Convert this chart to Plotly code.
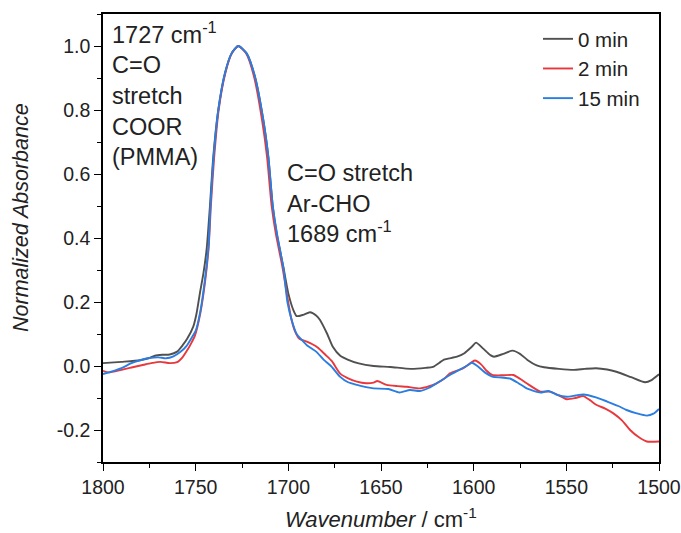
import plotly.graph_objects as go

# ---- data ----
wn_0 = [1800, 1790, 1780, 1775, 1772, 1768, 1764, 1760, 1757, 1754.6, 1751.3, 1749.5, 1747.7, 1745.8, 1744, 1742.3, 1740.5,
        1737.8, 1734.2, 1730.6, 1727, 1722.5, 1718, 1713.5, 1710.8, 1708.4, 1706.3, 1702.7, 1700, 1697.3,
        1695.5, 1692, 1688.3, 1685, 1682.9, 1679, 1676, 1672, 1668, 1662, 1654, 1645, 1634, 1626, 1622,
        1618, 1616, 1609, 1605, 1601, 1598.7, 1595, 1591, 1589, 1584, 1579, 1575, 1571, 1566, 1562, 1554,
        1546, 1540, 1534, 1528, 1523, 1515, 1507.5, 1504, 1500]
abs_0 = [0.009, 0.013, 0.018, 0.025, 0.032, 0.035, 0.036, 0.045, 0.065, 0.085, 0.123, 0.165, 0.228, 0.29, 0.37, 0.5, 0.654,
         0.8, 0.915, 0.977, 1.0, 0.977, 0.904, 0.769, 0.654, 0.5, 0.415, 0.31, 0.227, 0.175,
         0.156, 0.16, 0.168, 0.158, 0.144, 0.1, 0.06, 0.032, 0.02, 0.008, 0.0, -0.003, -0.009, -0.006, -0.003,
         0.012, 0.02, 0.029, 0.04, 0.06, 0.073, 0.055, 0.034, 0.029, 0.038, 0.048, 0.038, 0.019, 0.002, -0.004, -0.009,
         -0.012, -0.009, -0.007, -0.011, -0.018, -0.035, -0.051, -0.044, -0.026]

wn_2 = [1800, 1797, 1790, 1784, 1778, 1774, 1769, 1764, 1760, 1757, 1755, 1752.5, 1750.4, 1747.5, 1745, 1743,
        1741.8, 1740, 1737.6, 1734, 1730.5, 1727, 1722.8, 1718.5, 1714.2, 1711.5, 1709, 1706.8, 1703.2,
        1700.5, 1698.5, 1696.5, 1694, 1690, 1687, 1684, 1680, 1676.5, 1672, 1668, 1663, 1658, 1654, 1652,
        1647, 1641, 1636, 1629, 1624, 1620, 1616, 1612.8, 1605.6, 1601, 1599.3, 1596, 1593, 1590, 1584,
        1578.6, 1575, 1571.4, 1564, 1558.8, 1554, 1549.8, 1545, 1540.8, 1537, 1533.6, 1529, 1524.6, 1520,
        1515.6, 1511, 1506.6, 1500]
abs_2 = [-0.015, -0.02, -0.012, -0.004, 0.004, 0.009, 0.013, 0.009, 0.012, 0.028, 0.045, 0.07, 0.095, 0.165, 0.26, 0.37,
         0.5, 0.654, 0.8, 0.915, 0.977, 1.0, 0.977, 0.904, 0.769, 0.654, 0.5, 0.415, 0.31,
         0.215, 0.15, 0.11, 0.085, 0.076, 0.068, 0.057, 0.035, 0.015, -0.024, -0.038, -0.049, -0.054, -0.052, -0.047,
         -0.059, -0.063, -0.065, -0.07, -0.063, -0.054, -0.04, -0.023, -0.007, 0.012, 0.017, 0.005, -0.015, -0.028, -0.029,
         -0.028, -0.04, -0.054, -0.08, -0.08, -0.092, -0.104, -0.1, -0.094, -0.108, -0.122, -0.133, -0.148, -0.17,
         -0.2, -0.222, -0.236, -0.236]

wn_15 = [1800, 1795, 1790, 1785, 1780, 1775, 1770, 1766, 1762, 1758, 1755, 1752, 1750, 1747.5, 1745, 1743,
         1742, 1740.3, 1737.8, 1734.2, 1730.6, 1727, 1722.5, 1718, 1713.5, 1710.8, 1708.4, 1706, 1702.5,
         1700.5, 1698, 1695.5, 1693, 1690, 1685, 1681, 1677, 1672, 1668, 1663, 1658, 1654, 1646, 1640,
         1634.4, 1629, 1624, 1620, 1616, 1612.8, 1607, 1603, 1601, 1598, 1594, 1590, 1585, 1580.4, 1576,
         1571.4, 1564, 1559.7, 1555, 1549.8, 1545, 1540.8, 1534, 1528, 1522, 1517.5, 1512, 1506.6, 1503, 1500]
abs_15 = [-0.025, -0.017, -0.007, 0.008, 0.018, 0.025, 0.027, 0.024, 0.03, 0.045, 0.062, 0.09, 0.11, 0.17, 0.27, 0.38,
          0.5, 0.654, 0.8, 0.915, 0.977, 1.0, 0.977, 0.904, 0.769, 0.654, 0.5, 0.41, 0.3,
          0.2, 0.14, 0.1, 0.083, 0.065, 0.045, 0.02, 0.0, -0.034, -0.05, -0.059, -0.066, -0.07, -0.072, -0.083,
          -0.075, -0.078, -0.068, -0.054, -0.04, -0.028, -0.01, 0.003, 0.01, 0.0, -0.02, -0.033, -0.036, -0.039, -0.053,
          -0.07, -0.083, -0.078, -0.09, -0.096, -0.092, -0.089, -0.098, -0.111, -0.125, -0.1375, -0.148, -0.155, -0.149, -0.134]

series_names = ["0 min", "2 min", "15 min"]
series_colors = ["#505050", "#e8383d", "#2b7de0"]

x_ticks = [1800, 1750, 1700, 1650, 1600, 1550, 1500]
y_ticks = [-0.2, 0.0, 0.2, 0.4, 0.6, 0.8, 1.0]
y_ticklabels = ["-0.2", "0.0", "0.2", "0.4", "0.6", "0.8", "1.0"]

FONT = "Arial, Liberation Sans, sans-serif"

fig = go.Figure()
for wn, ab, name, col in zip([wn_0, wn_2, wn_15], [abs_0, abs_2, abs_15], series_names, series_colors):
    fig.add_trace(go.Scatter(x=wn, y=ab, mode="lines", name=name,
                             line=dict(color=col, width=1.9, shape="spline", smoothing=0.6)))

axis_common = dict(showline=True, linecolor="black", linewidth=1.6, mirror=True,
                   ticks="outside", ticklen=7, tickwidth=1.4, tickcolor="black",
                   showgrid=False, zeroline=False, automargin=False,
                   ticklabeloverflow="allow",
                   tickfont=dict(family=FONT, size=19.5, color="#222"))

fig.update_xaxes(range=[1800, 1500], tickvals=x_ticks,
                 minor=dict(ticks="outside", ticklen=4, tickwidth=1.2, tickcolor="black", dtick=25, tick0=1500),
                 **axis_common)
fig.update_yaxes(range=[-0.3, 1.1], tickvals=y_ticks, ticktext=y_ticklabels,
                 minor=dict(ticks="outside", ticklen=4, tickwidth=1.2, tickcolor="black", dtick=0.1, tick0=0),
                 **axis_common)

fig.update_layout(
    width=681, height=533,
    margin=dict(l=103, r=22, t=14, b=71),
    paper_bgcolor="white", plot_bgcolor="white",
    font=dict(family=FONT, color="#222"),
    showlegend=True,
    legend=dict(x=(538 - 103) / 556, y=(462 - 19) / 448, xanchor="left", yanchor="top",
                tracegroupgap=0,
                bgcolor="rgba(0,0,0,0)", font=dict(family=FONT, size=20.5, color="#222")),
    annotations=[
        dict(text="1727 cm<sup>-1</sup><br>C=O<br>stretch<br>COOR<br>(PMMA)",
             xref="paper", yref="paper", x=(110 - 103) / 556, y=(462 - 16) / 448,
             xanchor="left", yanchor="top", align="left", showarrow=False,
             font=dict(family=FONT, size=23.5, color="#222")),
        dict(text="C=O stretch<br>Ar-CHO<br>1689 cm<sup>-1</sup>",
             xref="paper", yref="paper", x=(285 - 103) / 556, y=(462 - 158) / 448,
             xanchor="left", yanchor="top", align="left", showarrow=False,
             font=dict(family=FONT, size=23.5, color="#222")),
        dict(text="<i>Normalized Absorbance</i>", textangle=-90,
             xref="paper", yref="paper", x=(21 - 103) / 556, y=(462 - 218) / 448,
             xanchor="center", yanchor="middle", showarrow=False,
             font=dict(family=FONT, size=21.5, color="#222")),
        dict(text="<i>Wavenumber</i> / cm<sup>-1</sup>",
             xref="paper", yref="paper", x=0.5, y=(462 - 518) / 448,
             xanchor="center", yanchor="middle", showarrow=False,
             font=dict(family=FONT, size=22, color="#222")),
    ],
)

fig.write_html("out.html")
